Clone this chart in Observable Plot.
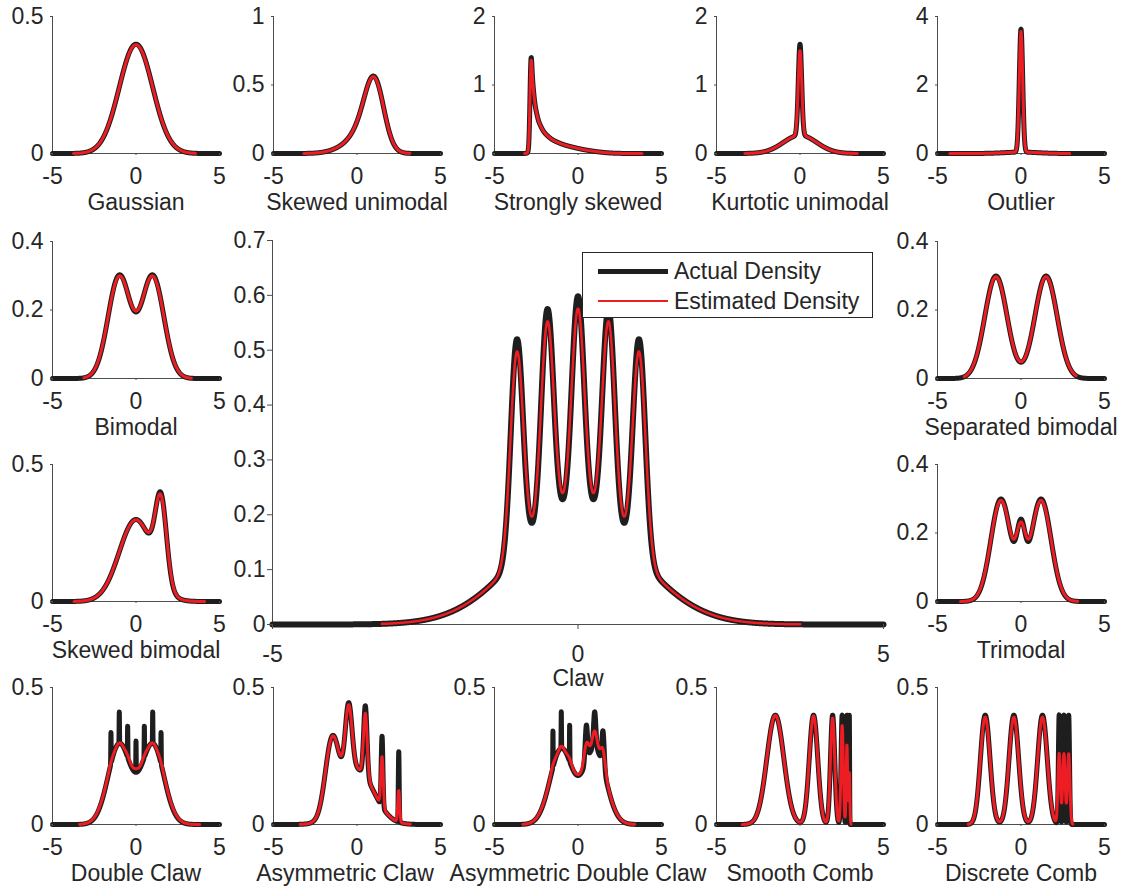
<!DOCTYPE html>
<html><head><meta charset="utf-8">
<script src="https://cdn.jsdelivr.net/npm/d3@7"></script>
<script src="https://cdn.jsdelivr.net/npm/@observablehq/plot@0.6"></script>
<style>
body{margin:0;background:#fff;}
#fig{position:relative;width:1126px;height:890px;overflow:hidden;font-family:"Liberation Sans",Arial,Helvetica,sans-serif;color:#262626;}
#fig svg{position:absolute;overflow:visible;}
.legend{position:absolute;left:582px;top:252px;width:289px;height:64px;border:1px solid #262626;background:#fff;font-size:23px;}
.legend .sw{position:absolute;left:15px;width:70px;}
.legend .lb{position:absolute;left:91px;line-height:26px;white-space:nowrap;}
</style></head><body><div id="fig"></div>
<script>
// ---- Data: panel names (x-axis labels) ----
const panelNames = ["Gaussian","Skewed unimodal","Strongly skewed","Kurtotic unimodal","Outlier",
  "Bimodal","Separated bimodal","Skewed bimodal","Trimodal","Claw",
  "Double Claw","Asymmetric Claw","Asymmetric Double Claw","Smooth Comb","Discrete Comb"];

// ---- Data: normal-mixture components [weight, mean, sd] of each actual density ----
const gaussian = [[1,0,1]];
const skewedUnimodal = [[0.2,0,1],[0.2,0.5,0.6667],[0.6,1.0833,0.5556]];
const stronglySkewed = [[0.125,0,1],[0.125,-1,0.6667],[0.125,-1.6667,0.4444],[0.125,-2.1111,0.2963],
  [0.125,-2.4074,0.1975],[0.125,-2.6049,0.1317],[0.125,-2.7366,0.0878],[0.125,-2.8244,0.0585]];
const kurtoticUnimodal = [[0.6667,0,1],[0.3333,0,0.1]];
const outlier = [[0.1,0,1],[0.9,0,0.1]];
const bimodal = [[0.5,-1,0.6667],[0.5,1,0.6667]];
const separatedBimodal = [[0.5,-1.5,0.6667],[0.5,1.5,0.6667]];
const skewedBimodal = [[0.75,0,1],[0.25,1.5,0.3333]];
const trimodal = [[0.45,-1.2,0.6],[0.45,1.2,0.6],[0.1,0,0.25]];
const claw = [[0.5,0,1],[0.1,-1,0.1],[0.1,-0.5,0.1],[0.1,0,0.1],[0.1,0.5,0.1],[0.1,1,0.1]];
const doubleClaw = [[0.49,-1,0.6667],[0.49,1,0.6667],[0.002857,-1.5,0.01],[0.002857,-1,0.01],
  [0.002857,-0.5,0.01],[0.002857,0,0.01],[0.002857,0.5,0.01],[0.002857,1,0.01],[0.002857,1.5,0.01]];
const asymmetricClaw = [[0.5,0,1],[0.2581,-1.5,0.4],[0.1290,-0.5,0.2],[0.0645,0.5,0.1],[0.0323,1.5,0.05],[0.0161,2.5,0.025]];
const asymmetricDoubleClaw = [[0.46,-1,0.6667],[0.46,1,0.6667],[0.003333,-1.5,0.01],[0.003333,-1,0.01],[0.003333,-0.5,0.01],
  [0.02333,0.5,0.07],[0.02333,1,0.07],[0.02333,1.5,0.07]];
const smoothComb = [[0.5079,-1.4762,0.5079],[0.2540,0.8095,0.2540],[0.1270,1.9524,0.1270],
  [0.0635,2.5238,0.0635],[0.0317,2.8095,0.0317],[0.0159,2.9524,0.0159]];
const discreteComb = [[0.2857,-2.1429,0.2857],[0.2857,-0.4286,0.2857],[0.2857,1.2857,0.2857],
  [0.0476,2.2857,0.0476],[0.0476,2.5714,0.0476],[0.0476,2.8571,0.0476]];

const components = [gaussian, skewedUnimodal, stronglySkewed, kurtoticUnimodal, outlier,
  bimodal, separatedBimodal, skewedBimodal, trimodal, claw,
  doubleClaw, asymmetricClaw, asymmetricDoubleClaw, smoothComb, discreteComb];

// ---- Data: estimated density (kernel bandwidth and sample range) ----
const bandwidths = [0.1,0.08,0.02,0.04,0.02, 0.1,0.08,0.08,0.1,0.035, 0.15,0.05,0.12,0.03,0.056];
const sampleMin = [-3.74,-3.18,-3.2,-3.3,-4.26, -3.12,-3.4,-3.71,-3.62,-3.21, -3.38,-3.4,-3.3,-3.46,-3.16];
const sampleMax = [3.56,3.17,3.83,3.43,2.92, 3.32,3.3,4.11,3.4,3.64, 3.82,3.2,3.4,3.06,3.1];

// ---- Data: axis ticks ----
const xTicks = [-5,0,5];
const yTicks = [[0,0.5],[0,0.5,1],[0,1,2],[0,1,2],[0,2,4],
  [0,0.2,0.4],[0,0.2,0.4],[0,0.5],[0,0.2,0.4],[0,0.1,0.2,0.3,0.4,0.5,0.6,0.7],
  [0,0.5],[0,0.5],[0,0.5],[0,0.5],[0,0.5]];

const legendLabels = ["Actual Density","Estimated Density"];

// ---- density evaluation ----
const SQ2PI = Math.sqrt(2*Math.PI);
function mix(comps, x, h) {
  let s = 0;
  for (const [w,m,sd] of comps) {
    const sp = Math.sqrt(sd*sd + h*h);
    const z = (x-m)/sp;
    s += w*Math.exp(-0.5*z*z)/(sp*SQ2PI);
  }
  return s;
}
const grid = d3.range(0, 5001).map(i => -5 + i*0.002);

// ---- layout ----
const rowTop = [16, 240.5, 463.5, 686.5], rowH = 137;
const colX = [52, 273, 494, 715.5, 937], colW = 167;
const frames = [
  [colX[0],rowTop[0]],[colX[1],rowTop[0]],[colX[2],rowTop[0]],[colX[3],rowTop[0]],[colX[4],rowTop[0]],
  [colX[0],rowTop[1]],[colX[4],rowTop[1]],[colX[0],rowTop[2]],[colX[4],rowTop[2]],null,
  [colX[0],rowTop[3]],[colX[1],rowTop[3]],[colX[2],rowTop[3]],[colX[3],rowTop[3]],[colX[4],rowTop[3]]
];
const titleShift = {11: -12};
const fig = document.getElementById("fig");
const FONT = '"Liberation Sans",Arial,Helvetica,sans-serif';

function panel(i) {
  const big = i === 9;
  const [x0, y0] = big ? [272, 240] : frames[i];
  const w = big ? 611 : colW, h = big ? 384 : rowH;
  const mL = 70, mR = 25, mT = 15, mB = 75;
  const comps = components[i];
  const actual = grid.map(x => ({x, y: mix(comps, x, 0)}));
  const est = grid.filter(x => x >= sampleMin[i] && x <= sampleMax[i])
                  .map(x => ({x, y: mix(comps, x, bandwidths[i])}));
  const yt = yTicks[i];
  const svg = Plot.plot({
    width: w + mL + mR, height: h + mT + mB,
    marginLeft: mL, marginRight: mR, marginTop: mT, marginBottom: mB,
    style: {fontSize: "23px", fontFamily: FONT, color: "#262626", background: "transparent", overflow: "visible"},
    x: {domain: [-5, 5]},
    y: {domain: [0, yt[yt.length-1]]},
    marks: [
      Plot.ruleX([-5], {stroke: "#4d4d4d", strokeWidth: 1}),
      Plot.ruleY([0], {stroke: "#4d4d4d", strokeWidth: 1}),
      Plot.line(actual, {x: "x", y: "y", stroke: "#1e1e1e", strokeWidth: big ? 6 : 5, strokeLinejoin: "round"}),
      Plot.line(est, {x: "x", y: "y", stroke: "#ee1d23", strokeWidth: big ? 2.5 : 3, strokeLinejoin: "round"}),
      Plot.axisX({ticks: xTicks, tickSize: big ? 5 : 2, tickPadding: big ? 16 : 12, label: null,
        tickFormat: d => String(d), stroke: "#4d4d4d", fill: "#262626"}),
      Plot.axisY({ticks: yt, tickSize: big ? 5 : 2, tickPadding: big ? 2 : 7, label: null,
        tickFormat: d => String(d), stroke: "#4d4d4d", fill: "#262626"}),
      Plot.text([panelNames[i]], {frameAnchor: "bottom", dy: big ? 54 : 49, dx: titleShift[i] || 0, text: d => d,
        fontSize: 23, fill: "#262626", lineAnchor: "middle"})
    ]
  });
  svg.style.left = (x0 - mL) + "px";
  svg.style.top = (y0 - mT) + "px";
  fig.appendChild(svg);
}
for (let i = 0; i < panelNames.length; i++) panel(i);

// ---- legend ----
const leg = document.createElement("div");
leg.className = "legend";
const swColors = ["#1e1e1e", "#ee1d23"], swWidths = [5, 2], rowY = [18, 48];
legendLabels.forEach((lab, k) => {
  const sw = document.createElement("div");
  sw.className = "sw";
  sw.style.top = (rowY[k] - swWidths[k]/2) + "px";
  sw.style.height = swWidths[k] + "px";
  sw.style.background = swColors[k];
  leg.appendChild(sw);
  const t = document.createElement("div");
  t.className = "lb";
  t.style.top = (rowY[k] - 13) + "px";
  t.textContent = lab;
  leg.appendChild(t);
});
fig.appendChild(leg);
</script>
</body></html>
